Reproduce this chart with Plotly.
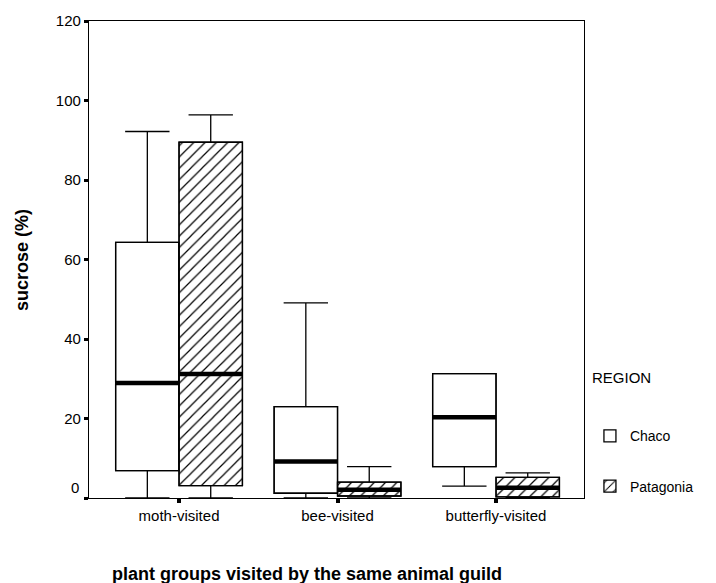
import plotly.graph_objects as go

categories = ["moth-visited", "bee-visited", "butterfly-visited"]
regions = ["Chaco", "Patagonia"]

chaco_lower = [0.0, 0.0, 3.0]
chaco_q1 = [6.9, 1.2, 7.9]
chaco_median = [28.9, 9.2, 20.3]
chaco_q3 = [64.3, 23.0, 31.3]
chaco_upper = [92.2, 49.1, 31.3]

pat_lower = [0.0, 0.0, 0.0]
pat_q1 = [3.1, 0.5, 0.3]
pat_median = [31.2, 2.1, 2.6]
pat_q3 = [89.5, 4.0, 5.2]
pat_upper = [96.4, 7.9, 6.3]

y_ticks = [0, 20, 40, 60, 80, 100, 120]

FONT = "Liberation Sans, Arial, sans-serif"
OFF = 0.2
W = 0.4

series = [
    dict(name="Chaco", off=-OFF, lo=chaco_lower, q1=chaco_q1, med=chaco_median,
         q3=chaco_q3, up=chaco_upper, pattern=None),
    dict(name="Patagonia", off=OFF, lo=pat_lower, q1=pat_q1, med=pat_median,
         q3=pat_q3, up=pat_upper, pattern="/"),
]

fig = go.Figure()

# filled boxes (bars) - also provide the legend swatches
for s in series:
    xs = [i + s["off"] for i in range(len(categories))]
    marker = dict(color="white", line=dict(color="black", width=1.3))
    if s["pattern"]:
        marker["pattern"] = dict(shape=s["pattern"], fgcolor="black", bgcolor="white",
                                 size=8, solidity=0.15, fillmode="replace")
    fig.add_trace(go.Bar(
        x=xs, base=s["q1"], y=[b - a for a, b in zip(s["q1"], s["q3"])],
        width=W, marker=marker, name=s["name"], legendgroup=s["name"],
        showlegend=True, hoverinfo="skip"))

# box outlines + whiskers
for s in series:
    xs = [i + s["off"] for i in range(len(categories))]
    fig.add_trace(go.Box(
        x=xs, q1=s["q1"], median=s["med"], q3=s["q3"],
        lowerfence=s["lo"], upperfence=s["up"], width=W, whiskerwidth=0.7,
        fillcolor="rgba(0,0,0,0)", line=dict(color="black", width=1.3),
        boxpoints=False, showlegend=False, hoverinfo="skip", name=s["name"]))

# thick medians
for s in series:
    mx, my = [], []
    for i, m in enumerate(s["med"]):
        c = i + s["off"]
        mx += [c - W / 2, c + W / 2, None]
        my += [m, m, None]
    fig.add_trace(go.Scatter(x=mx, y=my, mode="lines",
                             line=dict(color="black", width=4.5),
                             showlegend=False, hoverinfo="skip"))

fig.update_layout(
    width=716, height=583,
    margin=dict(l=89, r=132, t=21, b=85),
    paper_bgcolor="white", plot_bgcolor="white",
    barmode="overlay", boxmode="overlay",
    font=dict(family=FONT, color="black", size=14),
    legend=dict(x=1.012, y=0.163, xanchor="left", yanchor="top",
                font=dict(size=14), traceorder="grouped", tracegroupgap=29,
                bgcolor="rgba(0,0,0,0)"),
    xaxis=dict(range=[-0.568, 2.555], tickvals=list(range(len(categories))),
               ticktext=categories, ticks="outside", ticklen=4, tickwidth=4,
               tickcolor="black", showline=True, mirror=True, linecolor="black",
               linewidth=1.3, showgrid=False, zeroline=False,
               tickfont=dict(size=15)),
    yaxis=dict(range=[0, 120], tickvals=y_ticks,
               ticktext=["" if v == 0 else str(v) for v in y_ticks],
               ticks="outside", ticklen=4, tickwidth=3, tickcolor="black",
               showline=True, mirror=True, linecolor="black", linewidth=1.3,
               showgrid=False, zeroline=False, tickfont=dict(size=15)),
    annotations=[
        dict(text="0", xref="paper", yref="y", x=0, y=2.6, xanchor="right",
             yanchor="middle", xshift=-8, showarrow=False, font=dict(size=15)),
        dict(text="REGION", xref="paper", yref="paper", x=1.012, y=0.2516,
             xanchor="left", yanchor="middle", showarrow=False, font=dict(size=15)),
        dict(text="<b>plant groups visited by the same animal guild</b>",
             xref="paper", yref="paper", x=0.4394, y=-0.1593, xanchor="center",
             yanchor="middle", showarrow=False, font=dict(size=18)),
        dict(text="<b>sucrose (%)</b>", xref="paper", yref="paper", x=-0.1354,
             y=0.499, xanchor="center", yanchor="middle", textangle=-90,
             showarrow=False, font=dict(size=18)),
    ],
)

fig.write_html("out.html")
